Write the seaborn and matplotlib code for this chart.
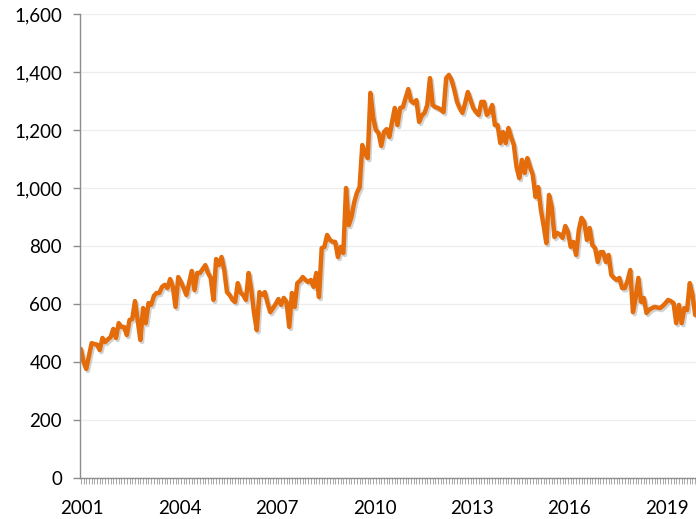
import numpy as np
import pandas as pd
import matplotlib
matplotlib.use("Agg")
import matplotlib.pyplot as plt
import matplotlib.patheffects as pe
from matplotlib.ticker import FuncFormatter, MultipleLocator, FixedLocator
import seaborn as sns

# monthly values, Jan 2001 .. Dec 2019
y2001 = [445, 400, 376, 420, 465, 462, 460, 441, 483, 469, 478, 486]
y2002 = [514, 483, 534, 521, 521, 493, 545, 548, 610, 545, 476, 586]
y2003 = [534, 603, 597, 628, 638, 638, 659, 666, 655, 686, 659, 590]
y2004 = [693, 676, 655, 631, 672, 714, 648, 707, 707, 720, 734, 707]
y2005 = [690, 614, 755, 734, 762, 717, 641, 631, 615, 607, 672, 640]
y2006 = [631, 614, 707, 648, 569, 510, 641, 631, 641, 603, 572, 586]
y2007 = [600, 617, 597, 621, 607, 521, 638, 590, 672, 680, 693, 683]
y2008 = [676, 683, 659, 707, 624, 793, 797, 838, 821, 815, 814, 762]
y2009 = [797, 776, 1000, 872, 900, 950, 983, 1003, 1148, 1120, 1103, 1328]
y2010 = [1245, 1200, 1190, 1145, 1193, 1203, 1176, 1228, 1276, 1217, 1276, 1279]
y2011 = [1310, 1341, 1300, 1293, 1303, 1228, 1250, 1259, 1286, 1379, 1286, 1279]
y2012 = [1276, 1270, 1262, 1379, 1390, 1372, 1338, 1297, 1275, 1259, 1293, 1331]
y2013 = [1303, 1276, 1262, 1252, 1297, 1297, 1252, 1262, 1286, 1217, 1217, 1155]
y2014 = [1193, 1155, 1207, 1175, 1148, 1072, 1034, 1097, 1052, 1103, 1072, 1045]
y2015 = [969, 1003, 924, 870, 810, 976, 934, 831, 845, 840, 828, 869]
y2016 = [848, 797, 814, 769, 855, 897, 883, 821, 862, 803, 793, 745]
y2017 = [779, 779, 745, 769, 700, 690, 683, 690, 655, 655, 680, 717]
y2018 = [572, 621, 690, 607, 621, 569, 580, 586, 590, 588, 586, 593]
y2019 = [603, 614, 610, 603, 534, 597, 534, 586, 579, 672, 631, 562]

values = (y2001 + y2002 + y2003 + y2004 + y2005 + y2006 + y2007 + y2008 + y2009 + y2010
          + y2011 + y2012 + y2013 + y2014 + y2015 + y2016 + y2017 + y2018 + y2019)
years = ["2001", "2004", "2007", "2010", "2013", "2016", "2019"]

df = pd.DataFrame({"month": np.arange(len(values)), "value": values})

sns.set_style("white")
plt.rcParams["font.family"] = ["Lato", "DejaVu Sans"]

fig = plt.figure(figsize=(6.96, 5.19), dpi=100)
ax = fig.add_axes([80 / 696, 41 / 519, 616 / 696, 464 / 519])

sns.lineplot(data=df, x="month", y="value", ax=ax, color="#E46C0A", linewidth=3.2,
             path_effects=[pe.SimpleLineShadow(offset=(1.2, -1.5), shadow_color="gray", alpha=0.35),
                           pe.Normal()])

ax.set_xlim(-0.3, 227.3)
ax.set_ylim(0, 1600)
ax.yaxis.set_major_locator(MultipleLocator(200))
ax.yaxis.set_major_formatter(FuncFormatter(lambda v, p: f"{int(v):,}"))
ax.grid(axis="y", color="#EDEDED", linewidth=0.9)
ax.set_axisbelow(True)

ax.xaxis.set_major_locator(FixedLocator(np.arange(len(years)) * 36 + 0.5))
ax.set_xticklabels(years)
ax.xaxis.set_minor_locator(MultipleLocator(1))

ax.set_xlabel("")
ax.set_ylabel("")
for side in ["top", "right"]:
    ax.spines[side].set_visible(False)
for side in ["left", "bottom"]:
    ax.spines[side].set_color("#8C8C8C")
    ax.spines[side].set_linewidth(1.0)

ax.tick_params(axis="y", which="major", length=5, width=1, color="#8C8C8C",
               direction="out", left=True, labelsize=13.5, pad=8, labelcolor="black")
ax.tick_params(axis="x", which="major", length=0, labelsize=13.5, pad=16, labelcolor="black")
ax.tick_params(axis="x", which="minor", length=4, width=0.6, color="#9A9A9A",
               direction="out", bottom=True)

fig.savefig("out.png", dpi=100)
